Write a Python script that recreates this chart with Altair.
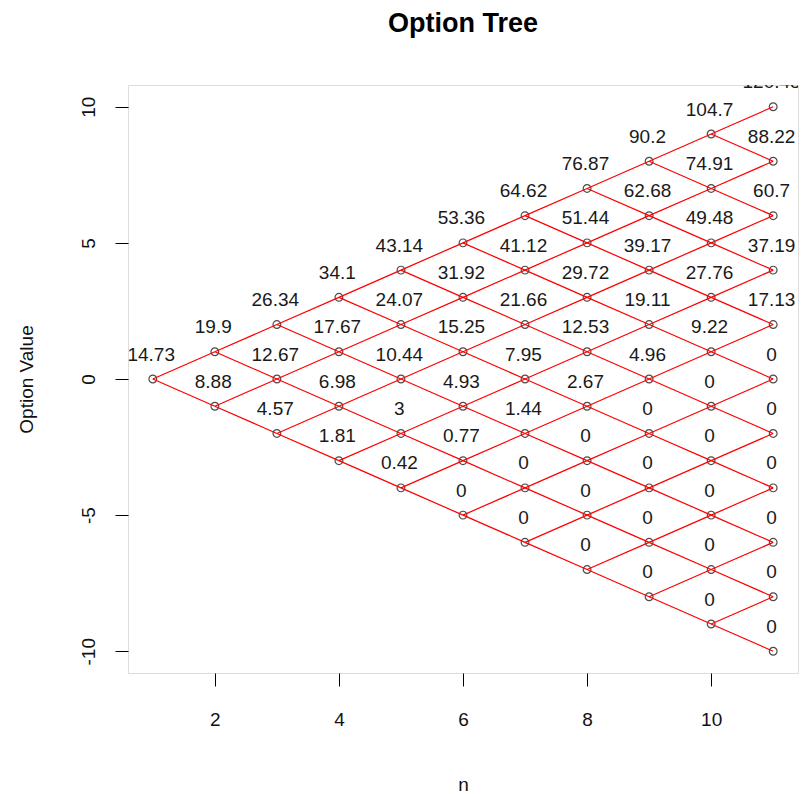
import altair as alt
import pandas as pd

# Option values per time step n (top node first)
COLUMNS = [
    [14.73],
    [19.9, 8.88],
    [26.34, 12.67, 4.57],
    [34.1, 17.67, 6.98, 1.81],
    [43.14, 24.07, 10.44, 3, 0.42],
    [53.36, 31.92, 15.25, 4.93, 0.77, 0],
    [64.62, 41.12, 21.66, 7.95, 1.44, 0, 0],
    [76.87, 51.44, 29.72, 12.53, 2.67, 0, 0, 0],
    [90.2, 62.68, 39.17, 19.11, 4.96, 0, 0, 0, 0],
    [104.7, 74.91, 49.48, 27.76, 9.22, 0, 0, 0, 0, 0],
    [120.48, 88.22, 60.7, 37.19, 17.13, 0, 0, 0, 0, 0, 0],
]
X_TICKS = [2, 4, 6, 8, 10]
Y_TICKS = [-10, -5, 0, 5, 10]
TITLE = "Option Tree"
X_TITLE = "n"
Y_TITLE = "Option Value"

FONT = "Liberation Sans"
depth = len(COLUMNS)
W, H = 670, 588

node_rows = []
for j, vals in enumerate(COLUMNS):
    n = j + 1
    for k, v in enumerate(vals):
        y = (n - 1) - 2 * k
        node_rows.append({"n": n, "y": y, "label": f"{v:g}"})
nodes = pd.DataFrame(node_rows)

edge_rows = []
for r in node_rows:
    if r["n"] < depth:
        for d in (1, -1):
            edge_rows.append({"n": r["n"], "y": r["y"], "n2": r["n"] + 1, "y2": r["y"] + d})
edges = pd.DataFrame(edge_rows)

xscale = alt.Scale(domain=[0.6, depth + 0.4], nice=False, zero=False)
yscale = alt.Scale(domain=[-(depth - 1) * 1.08, (depth - 1) * 1.08], nice=False, zero=False)

xaxis = alt.Axis(values=X_TICKS, grid=False, domain=False, tickSize=13, tickColor="black",
                 tickWidth=1, labelFontSize=19, labelFont=FONT, labelColor="#111",
                 labelExpr="'' + datum.value",
                 labelPadding=24, title=X_TITLE, titleFont=FONT, titleFontSize=19,
                 titleFontWeight="normal", titleColor="#111", titleY=117,
                 titleBaseline="alphabetic")
yaxis = alt.Axis(values=Y_TICKS, grid=False, domain=False, tickSize=13, tickColor="black",
                 tickWidth=1, labelFontSize=19, labelFont=FONT, labelColor="#111",
                 labelExpr="'' + datum.value",
                 labelAngle=270, labelAlign="center", labelBaseline="alphabetic",
                 labelPadding=21, title=Y_TITLE, titleFont=FONT, titleFontSize=19,
                 titleFontWeight="normal", titleColor="#111", titleAngle=270,
                 titleX=-96, titleY=H / 2, titleAlign="center", titleBaseline="alphabetic")

pts = alt.Chart(nodes).mark_point(shape="circle", filled=False, color="black",
                                  size=60, strokeWidth=1.2).encode(
    x=alt.X("n:Q", scale=xscale, axis=xaxis),
    y=alt.Y("y:Q", scale=yscale, axis=yaxis),
)

txt = alt.Chart(nodes).mark_text(font=FONT, fontSize=19, color="#1a1a1a", dy=-24.5, dx=-1.6,
                                 baseline="middle", clip=True).encode(
    x=alt.X("n:Q", scale=xscale),
    y=alt.Y("y:Q", scale=yscale),
    text="label:N",
)

lines = alt.Chart(edges).mark_rule(color="#ff0000", strokeWidth=1.2).encode(
    x=alt.X("n:Q", scale=xscale),
    y=alt.Y("y:Q", scale=yscale),
    x2="n2:Q",
    y2="y2:Q",
)

title = alt.Chart(pd.DataFrame({"t": [TITLE]})).mark_text(
    font=FONT, fontSize=27, fontWeight="bold", color="black",
    align="center", baseline="alphabetic").encode(
    x=alt.value(W / 2), y=alt.value(-53), text="t:N")

chart = alt.layer(pts, txt, lines, title).properties(
    width=W,
    height=H,
    autosize=alt.AutoSizeParams(type="none"),
    padding={"left": 120, "top": 77, "right": 1, "bottom": 121},
).configure_view(stroke="black", strokeWidth=1.2).configure(background="white")

chart.save("out.html", embed_options={"renderer": "svg", "actions": False})
